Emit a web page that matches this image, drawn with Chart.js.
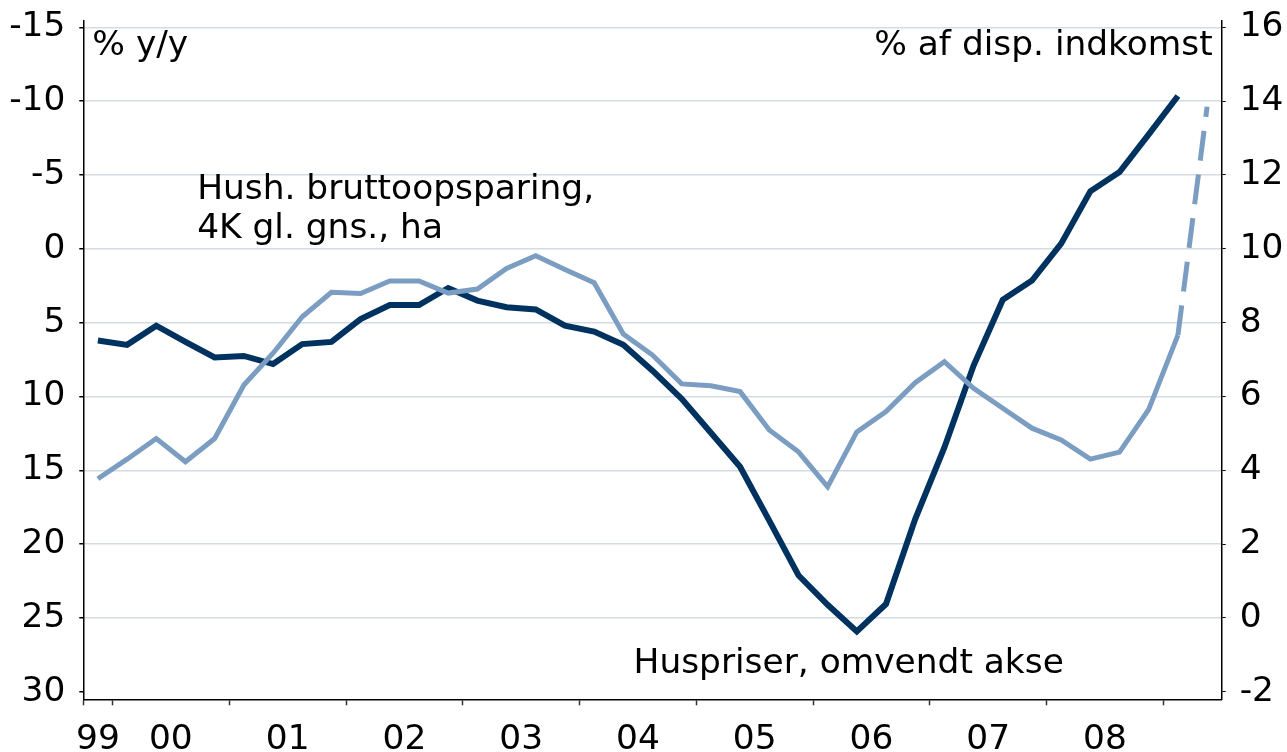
<!DOCTYPE html>
<html>
<head>
<meta charset="utf-8">
<script src="https://cdn.jsdelivr.net/npm/chart.js@4"></script>
<style>
  html, body { margin: 0; padding: 0; background: #fff; }
  #chart { display: block; }
</style>
</head>
<body>
<canvas id="chart" width="1287" height="752"></canvas>
<script>
// Quarters shown on the chart (99K4 .. 09K2)
const quarters = [
    '99K4',
    '00K1', '00K2', '00K3', '00K4',
    '01K1', '01K2', '01K3', '01K4',
    '02K1', '02K2', '02K3', '02K4',
    '03K1', '03K2', '03K3', '03K4',
    '04K1', '04K2', '04K3', '04K4',
    '05K1', '05K2', '05K3', '05K4',
    '06K1', '06K2', '06K3', '06K4',
    '07K1', '07K2', '07K3', '07K4',
    '08K1', '08K2', '08K3', '08K4',
    '09K1', '09K2'
];

// Huspriser, % y/y (plotted on the reversed left axis)
const housePrices = [
    6.2, 6.5, 5.2, 6.3, 7.35, 7.25, 7.8, 6.45, 6.3, 4.75,
    3.8, 3.8, 2.65, 3.5, 3.95, 4.1, 5.2, 5.6, 6.5, 8.25,
    10.15, 12.45, 14.75, 18.4, 22.1, 24.1, 25.9, 24.05, 18.3, 13.45,
    7.9, 3.45, 2.15, -0.35, -3.9, -5.2, -7.75, -10.35
];

// Husholdningernes bruttoopsparing, % af disp. indkomst (right axis)
const savings = [
    3.77, 4.3, 4.86, 4.23, 4.86, 6.31, 7.17, 8.16, 8.82, 8.79,
    9.13, 9.13, 8.8, 8.91, 9.47, 9.81, 9.44, 9.08, 7.69, 7.12,
    6.34, 6.29, 6.13, 5.09, 4.5, 3.55, 5.04, 5.59, 6.37, 6.94,
    6.22, 5.68, 5.14, 4.82, 4.3, 4.49, 5.65, 7.66, 13.85
];
// the last savings step is a forecast (dashed)
const savingsForecastFrom = 37;

// x axis: year labels and where the year tick marks sit (in quarter slots)
const yearLabels = ['99', '00', '01', '02', '03', '04', '05', '06', '07', '08'];
const yearLabelPos = [0.5, 3, 7, 11, 15, 19, 23, 27, 31, 35];
const yearTicks = [0, 1, 5, 9, 13, 17, 21, 25, 29, 33, 37];

const leftTicks = [-15, -10, -5, 0, 5, 10, 15, 20, 25, 30];
const rightTicks = [-2, 0, 2, 4, 6, 8, 10, 12, 14, 16];

const FONT = 'DejaVu Sans';
const FSIZE = 34.4;
const DARK = '#00325f';
const LIGHT = '#7a9dc1';
const GRID = '#d4dce3';

// text labels drawn inside the plot
const notesPlugin = {
    id: 'notes',
    afterDraw(chart) {
        const { ctx, chartArea: a, scales } = chart;
        ctx.save();
        ctx.font = FSIZE + 'px "' + FONT + '"';
        ctx.fillStyle = '#000';
        ctx.textBaseline = 'alphabetic';

        ctx.textAlign = 'left';
        ctx.fillText('% y/y', a.left + 9, a.top + 34);

        ctx.textAlign = 'right';
        ctx.fillText('% af disp. indkomst', a.right - 9, a.top + 34);

        ctx.textAlign = 'left';
        const hx = scales.x.getPixelForValue(3.9);
        const hy = scales.yL.getPixelForValue(-3.4);
        ctx.fillText('Hush. bruttoopsparing,', hx, hy);
        ctx.fillText('4K gl. gns., ha', hx, hy + 39.5);

        const px = scales.x.getPixelForValue(18.85);
        const py = scales.yL.getPixelForValue(28.72);
        ctx.fillText('Huspriser, omvendt akse', px, py);
        ctx.restore();
    }
};

// keep the tick labels from pushing the plot area around
function noPad(s) {
    s.paddingTop = 0;
    s.paddingBottom = 0;
    s.paddingLeft = 0;
    s.paddingRight = 0;
}

const ctx = document.getElementById('chart').getContext('2d');
const chart = new Chart(ctx, {
    type: 'line',
    data: {
        datasets: [
            {
                label: 'Hush. bruttoopsparing',
                data: savings.map((v, i) => ({ x: i + 0.5, y: v })),
                yAxisID: 'yR',
                borderColor: LIGHT,
                borderWidth: 5,
                pointRadius: 0,
                tension: 0,
                order: 0,
                segment: {
                    borderDash: c => c.p0DataIndex >= savingsForecastFrom ? [30, 14] : undefined
                }
            },
            {
                label: 'Huspriser',
                data: housePrices.map((v, i) => ({ x: i + 0.5, y: v })),
                yAxisID: 'yL',
                borderColor: DARK,
                borderWidth: 6,
                pointRadius: 0,
                tension: 0,
                order: 1
            }
        ]
    },
    options: {
        responsive: false,
        animation: false,
        devicePixelRatio: 1,
        layout: { padding: { top: 20.7, left: 0, right: 0, bottom: 0 } },
        plugins: {
            legend: { display: false },
            tooltip: { enabled: false }
        },
        scales: {
            x: {
                type: 'linear',
                min: 0,
                max: quarters.length,
                afterBuildTicks: s => {
                    s.ticks = yearTicks.concat(yearLabelPos)
                        .sort((a, b) => a - b)
                        .map(v => ({ value: v }));
                },
                afterFit: s => { s.height = 52.7; noPad(s); },
                ticks: {
                    autoSkip: false,
                    maxRotation: 0,
                    minRotation: 0,
                    padding: 14,
                    color: '#000',
                    font: { family: FONT, size: FSIZE },
                    callback: v => {
                        const k = yearLabelPos.indexOf(v);
                        return k >= 0 ? yearLabels[k] : '';
                    }
                },
                grid: {
                    drawOnChartArea: false,
                    tickLength: 6,
                    tickWidth: 1.5,
                    tickColor: c => yearTicks.includes(c.tick.value) ? '#333' : 'rgba(0,0,0,0)'
                },
                border: { display: true, color: '#000', width: 1.5 }
            },
            yL: {
                type: 'linear',
                position: 'left',
                reverse: true,
                min: -15.45,
                max: 30.5,
                afterBuildTicks: s => { s.ticks = leftTicks.map(v => ({ value: v })); },
                afterFit: s => { s.width = 83.3; noPad(s); },
                ticks: {
                    padding: 14,
                    color: '#000',
                    font: { family: FONT, size: FSIZE }
                },
                grid: {
                    color: c => c.tick && c.tick.value === 30 ? 'rgba(0,0,0,0)' : GRID,
                    lineWidth: 1.5,
                    tickLength: 4,
                    tickColor: '#000'
                },
                border: { display: true, color: '#000', width: 1.5 }
            },
            yR: {
                type: 'linear',
                position: 'right',
                min: -2.206,
                max: 16.18,
                afterBuildTicks: s => { s.ticks = rightTicks.map(v => ({ value: v })); },
                afterFit: s => { s.width = 65.3; noPad(s); },
                ticks: {
                    padding: 14,
                    color: '#000',
                    font: { family: FONT, size: FSIZE }
                },
                grid: {
                    drawOnChartArea: false,
                    tickLength: 4,
                    tickColor: '#000'
                },
                border: { display: true, color: '#000', width: 1.5 }
            }
        }
    },
    plugins: [notesPlugin]
});
</script>
</body>
</html>
